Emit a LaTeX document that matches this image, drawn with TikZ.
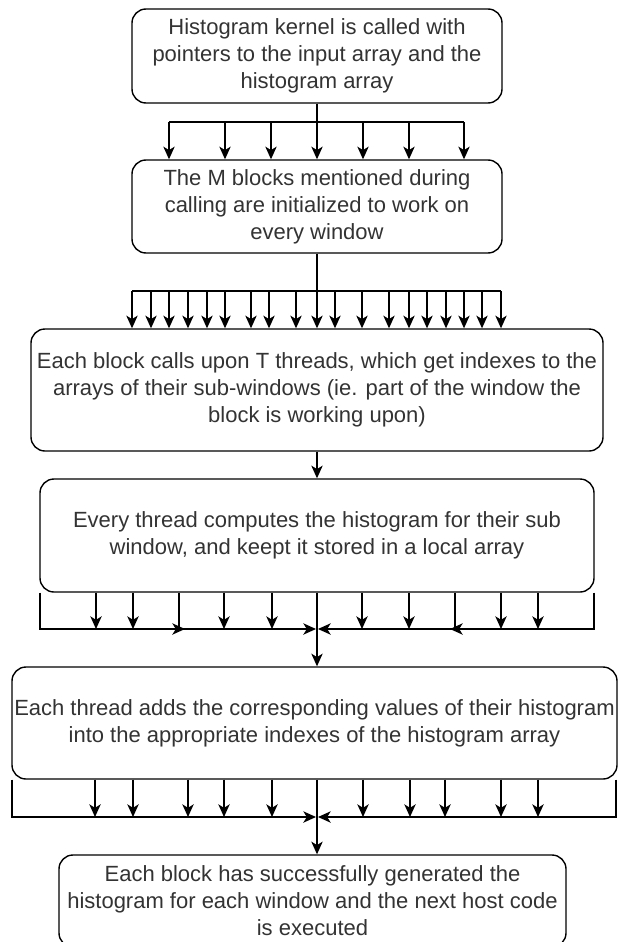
\documentclass[tikz,border=0pt]{standalone}
\usepackage{fontspec}
\setmainfont{Liberation Sans}
\usetikzlibrary{arrows.meta}
\begin{document}
\begin{tikzpicture}[x=0.75pt,y=-0.75pt,
  box/.style={draw, line width=1.05pt, rounded corners=10.5pt, align=center,
    inner sep=0pt, text=black!80, font=\fontsize{16.5pt}{20.25pt}\selectfont},
  ln/.style={draw, line width=1.05pt},
  arr/.style={ln, -{Stealth[length=9.5pt,width=8.5pt,inset=2.6pt]}}]
\useasboundingbox[fill=white] (0,0) rectangle (618,942);

% process boxes
\node[box, minimum width=277.5pt, minimum height=70.5pt] (b1) at (317,56)
  {Histogram kernel is called with\\pointers to the input array and the\\histogram array};
\node[box, minimum width=277.5pt, minimum height=69.75pt] (b2) at (317,206.5)
  {The M blocks mentioned during\\calling are initialized to work on\\every window};
\node[box, minimum width=429pt, minimum height=91.5pt] (b3) at (317,390)
  {Each block calls upon T threads, which get indexes to the\\arrays of their sub-windows (ie. part of the window the\\block is working upon)};
\node[box, minimum width=415.5pt, minimum height=84.75pt] (b4) at (317,535.5)
  {Every thread computes the histogram for their sub\\window, and keept it stored in a local array};
\node[box, minimum width=453.75pt, minimum height=84pt] (b5) at (314.5,723)
  {Each thread adds the corresponding values of their histogram\\into the appropriate indexes of the histogram array};
\node[box, minimum width=380.25pt, minimum height=69pt] (b6) at (312.5,901)
  {Each block has successfully generated the\\histogram for each window and the next host code\\is executed};

% kernel launch fans out to the blocks
\coordinate (j1) at (317,122);
\draw[ln] (b1.south) -- (j1);
\draw[ln] (169,122) -- (464,122);
\foreach \x in {169,225,271,317,363,409,464}
  \draw[arr] (\x,122) -- (\x,0 |- b2.north);

% blocks fan out to the threads
\coordinate (j2) at (317,291);
\draw[ln] (b2.south) -- (j2);
\draw[ln] (132,291) -- (501,291);
\foreach \x in {132,151,169,188,207,225,251,269,296,317,335,362,389,409,427,446,464,482,501}
  \draw[arr] (\x,291) -- (\x,0 |- b3.north);

% threads start computing
\draw[arr] (b3.south) -- (b4.north);

% local histograms gathered
\draw[arr] (b4.south) -- (b5.north -| b4.south);
\foreach \x in {96,133,224,272,362,409,501,538}
  \draw[arr] (\x,0 |- b4.south) -- (\x,629);
\draw[arr] (40,0 |- b4.south) -- (40,629) -- (185,629);
\draw[arr] (179,0 |- b4.south) -- (179,629) -- (316,629);
\draw[arr] (594,0 |- b4.south) -- (594,629) -- (450,629);
\draw[arr] (455,0 |- b4.south) -- (455,629) -- (318,629);

% global histogram gathered
\draw[arr] (317,0 |- b5.south) -- (317,0 |- b6.north);
\foreach \x in {95,133,188,224,272,363,410,445,501,538}
  \draw[arr] (\x,0 |- b5.south) -- (\x,817);
\draw[arr] (12,0 |- b5.south) -- (12,817) -- (316,817);
\draw[arr] (616,0 |- b5.south) -- (616,817) -- (318,817);
\end{tikzpicture}
\end{document}
